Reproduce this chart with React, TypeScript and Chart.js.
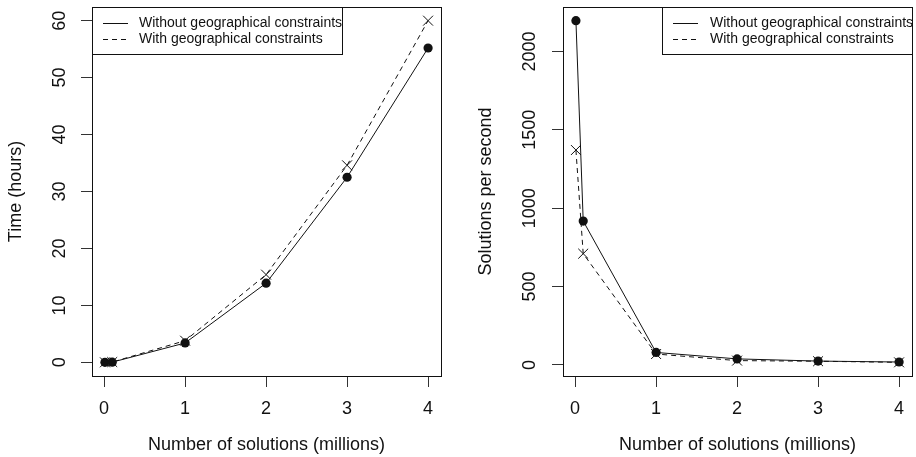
import React, { useEffect, useRef } from "react";
import { Chart, registerables } from "chart.js";

Chart.register(...registerables);

// ---------- data ----------
const xMillions = [0.01, 0.1, 1, 2, 3, 4];
const timeWithout = [0, 0.03, 3.4, 13.9, 32.5, 55.2];
const timeWith = [0, 0.05, 3.8, 15.4, 34.6, 60];
const rateWithout = [2196, 918, 80, 39, 25, 19];
const rateWith = [1371, 710, 70, 28, 24, 17];

const xTicks = [0, 1, 2, 3, 4];
const timeTicks = [0, 10, 20, 30, 40, 50, 60];
const rateTicks = [0, 500, 1000, 1500, 2000];

const seriesLabels = ["Without geographical constraints", "With geographical constraints"];
const xTitle = "Number of solutions (millions)";
const leftYTitle = "Time (hours)";
const rightYTitle = "Solutions per second";

// ---------- helpers ----------
const FONT = "'Liberation Sans', Arial, Helvetica, sans-serif";
const INK = "#111111";

function rRange(vals: number[]): [number, number] {
  const lo = Math.min(...vals);
  const hi = Math.max(...vals);
  const d = (hi - lo) * 0.04;
  return [lo - d, hi + d];
}

const boxPlugin = {
  id: "rBox",
  afterDatasetsDraw(chart: any) {
    const { ctx, chartArea: a } = chart;
    ctx.save();
    ctx.strokeStyle = INK;
    ctx.lineWidth = 1;
    ctx.strokeRect(Math.round(a.left) + 0.5, Math.round(a.top) + 0.5, Math.round(a.right - a.left), Math.round(a.bottom - a.top));
    ctx.restore();
  },
};

const legendPlugin = {
  id: "rLegend",
  afterDraw(chart: any, _args: any, opts: any) {
    const { ctx, chartArea: a } = chart;
    const w = opts.width;
    const h = opts.height;
    const x0 = Math.round(opts.align === "right" ? a.right - w : a.left);
    const y0 = Math.round(a.top);
    ctx.save();
    ctx.fillStyle = "#ffffff";
    ctx.fillRect(x0, y0, w, h);
    ctx.strokeStyle = INK;
    ctx.lineWidth = 1;
    ctx.strokeRect(x0 + 0.5, y0 + 0.5, w, h);
    ctx.font = `14px ${FONT}`;
    ctx.textBaseline = "middle";
    ctx.textAlign = "left";
    ctx.fillStyle = INK;
    chart.data.datasets.forEach((ds: any, i: number) => {
      const y = y0 + opts.firstRow + i * opts.rowGap + 0.5;
      ctx.setLineDash(ds.borderDash || []);
      ctx.beginPath();
      ctx.moveTo(x0 + opts.lineStart, y);
      ctx.lineTo(x0 + opts.lineStart + opts.lineLen, y);
      ctx.stroke();
      ctx.setLineDash([]);
      ctx.fillText(ds.label, x0 + opts.textStart, y);
    });
    ctx.restore();
  },
};

interface PanelCfg {
  without: number[];
  withC: number[];
  yTicks: number[];
  yTitle: string;
  yAxisWidth: number;
  padRight: number;
  yTickPad: number;
  yTitlePad: number;
  legendAlign: "left" | "right";
  legendText: number;
}

function makeConfig(c: PanelCfg): any {
  const [xmin, xmax] = rRange(xMillions);
  const [ymin, ymax] = rRange([...c.without, ...c.withC]);
  const tickFont = { family: FONT, size: 18 };
  return {
    type: "line",
    data: {
      datasets: [
        {
          label: seriesLabels[0],
          data: xMillions.map((x, i) => ({ x, y: c.without[i] })),
          borderColor: INK,
          borderWidth: 1,
          backgroundColor: INK,
          pointStyle: "circle",
          pointRadius: 4.6,
          pointBorderWidth: 0,
          pointBackgroundColor: INK,
          tension: 0,
        },
        {
          label: seriesLabels[1],
          data: xMillions.map((x, i) => ({ x, y: c.withC[i] })),
          borderColor: INK,
          borderWidth: 1,
          borderDash: [5, 4],
          pointStyle: "crossRot",
          pointRadius: 7,
          pointBorderWidth: 1,
          pointBorderColor: INK,
          pointBackgroundColor: INK,
          tension: 0,
        },
      ],
    },
    options: {
      responsive: false,
      animation: false,
      devicePixelRatio: 1,
      layout: { autoPadding: false, padding: { left: 0, right: c.padRight, top: 7, bottom: 0 } },
      plugins: {
        legend: { display: false },
        tooltip: { enabled: false },
        rLegend: {
          align: c.legendAlign,
          width: 250,
          height: 47,
          firstRow: 16,
          rowGap: 16,
          lineStart: 11,
          lineLen: 25,
          textStart: c.legendText,
        },
      },
      scales: {
        x: {
          type: "linear",
          min: xmin,
          max: xmax,
          afterBuildTicks: (s: any) => {
            s.ticks = xTicks.map((v) => ({ value: v }));
          },
          afterFit: (s: any) => {
            s.height = 81;
            s.paddingLeft = 0;
            s.paddingRight = 0;
          },
          border: { display: false },
          grid: { drawOnChartArea: false, drawTicks: true, tickLength: 11, color: "#333333", lineWidth: 1 },
          ticks: { padding: 11, maxRotation: 0, font: tickFont, color: INK, callback: (v: any) => String(v) },
          title: { display: true, text: xTitle, font: tickFont, color: INK, padding: { top: 0, bottom: 1 } },
        },
        y: {
          type: "linear",
          min: ymin,
          max: ymax,
          afterBuildTicks: (s: any) => {
            s.ticks = c.yTicks.map((v) => ({ value: v }));
          },
          afterFit: (s: any) => {
            s.width = c.yAxisWidth;
            s.paddingTop = 0;
            s.paddingBottom = 0;
          },
          border: { display: false },
          grid: { drawOnChartArea: false, drawTicks: true, tickLength: 11, color: "#333333", lineWidth: 1 },
          ticks: {
            minRotation: 90,
            maxRotation: 90,
            crossAlign: "center",
            padding: c.yTickPad,
            font: tickFont,
            color: INK,
            callback: (v: any) => String(v),
          },
          title: { display: true, text: c.yTitle, font: tickFont, color: INK, padding: { top: c.yTitlePad, bottom: 0 } },
        },
      },
    },
    plugins: [boxPlugin, legendPlugin],
  };
}

function Panel({ cfg }: { cfg: PanelCfg }) {
  const ref = useRef<HTMLCanvasElement>(null);
  useEffect(() => {
    const chart = new Chart(ref.current as HTMLCanvasElement, makeConfig(cfg));
    return () => chart.destroy();
  }, []);
  return <canvas ref={ref} width={458} height={457} style={{ display: "block", width: 458, height: 457, flex: "none" }} />;
}

const leftCfg: PanelCfg = {
  without: timeWithout,
  withC: timeWith,
  yTicks: timeTicks,
  yTitle: leftYTitle,
  yAxisWidth: 92,
  padRight: 17,
  yTickPad: 11,
  yTitlePad: 5,
  legendAlign: "left",
  legendText: 47,
};

const rightCfg: PanelCfg = {
  without: rateWithout,
  withC: rateWith,
  yTicks: rateTicks,
  yTitle: rightYTitle,
  yAxisWidth: 105,
  padRight: 4,
  yTickPad: 2,
  yTitlePad: 17,
  legendAlign: "right",
  legendText: 48,
};

export default function App() {
  return (
    <div style={{ position: "absolute", left: 0, top: 0, width: 916, height: 457, display: "flex", background: "#ffffff" }}>
      <Panel cfg={leftCfg} />
      <Panel cfg={rightCfg} />
    </div>
  );
}
